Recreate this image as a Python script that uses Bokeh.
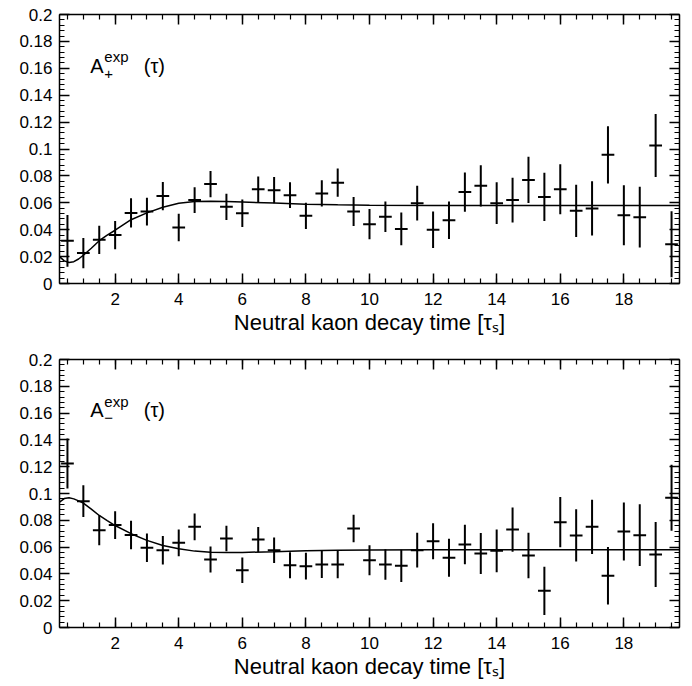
import numpy as np
from bokeh.plotting import figure
from bokeh.models import (FixedTicker, LinearAxis, Range1d, Label, ColumnDataSource,
                          CustomJSTickFormatter)
from bokeh.layouts import column
from bokeh.embed import file_html
from bokeh.resources import INLINE

# ---------------- data ----------------
t = [0.5, 1.0, 1.5, 2.0, 2.5, 3.0, 3.5, 4.0, 4.5, 5.0, 5.5, 6.0, 6.5, 7.0, 7.5, 8.0,
     8.5, 9.0, 9.5, 10.0, 10.5, 11.0, 11.5, 12.0, 12.5, 13.0, 13.5, 14.0, 14.5, 15.0,
     15.5, 16.0, 16.5, 17.0, 17.5, 18.0, 18.5, 19.0, 19.5]

a_plus = [0.0317, 0.0226, 0.0325, 0.0360, 0.0525, 0.0535, 0.0650, 0.0416, 0.0620, 0.0739,
          0.0570, 0.0523, 0.0700, 0.0694, 0.0657, 0.0503, 0.0670, 0.0750, 0.0535, 0.0441,
          0.0496, 0.0406, 0.0597, 0.0400, 0.0470, 0.0680, 0.0726, 0.0597, 0.0620, 0.0770,
          0.0644, 0.0700, 0.0540, 0.0558, 0.0957, 0.0508, 0.0493, 0.1026, 0.0292]
a_plus_err = [0.0192, 0.0112, 0.0105, 0.0105, 0.0108, 0.0103, 0.0105, 0.0102, 0.0095, 0.0097,
              0.0097, 0.0102, 0.0095, 0.0097, 0.0095, 0.0097, 0.0098, 0.0105, 0.0108, 0.0112,
              0.0114, 0.0121, 0.0129, 0.0136, 0.0139, 0.0146, 0.0154, 0.0155, 0.0167, 0.0172,
              0.0180, 0.0186, 0.0195, 0.0202, 0.0213, 0.0223, 0.0226, 0.0235, 0.0245]

a_minus = [0.1224, 0.0943, 0.0726, 0.0764, 0.0690, 0.0595, 0.0577, 0.0632, 0.0751, 0.0507,
           0.0664, 0.0428, 0.0657, 0.0577, 0.0465, 0.0458, 0.0470, 0.0470, 0.0739, 0.0502,
           0.0470, 0.0460, 0.0577, 0.0644, 0.0520, 0.0619, 0.0552, 0.0572, 0.0731, 0.0537,
           0.0274, 0.0786, 0.0687, 0.0751, 0.0386, 0.0716, 0.0689, 0.0545, 0.0968]
a_minus_err = [0.0187, 0.0118, 0.0112, 0.0103, 0.0106, 0.0106, 0.0106, 0.0100, 0.0100, 0.0097,
               0.0095, 0.0095, 0.0093, 0.0095, 0.0097, 0.0100, 0.0100, 0.0102, 0.0103, 0.0112,
               0.0114, 0.0121, 0.0130, 0.0134, 0.0142, 0.0147, 0.0153, 0.0159, 0.0165, 0.0170,
               0.0180, 0.0188, 0.0195, 0.0203, 0.0215, 0.0216, 0.0230, 0.0243, 0.0246]

fit_t = [0.25, 0.4, 0.55, 0.7, 0.85, 1.0, 1.25, 1.5, 1.75, 2.0, 2.5, 3.0, 3.5, 4.0, 4.5,
         5.0, 5.5, 6.0, 7.0, 8.0, 9.0, 10.0, 12.0, 14.0, 16.0, 18.0, 19.75]
fit_plus = [0.0200, 0.0168, 0.0156, 0.0162, 0.0182, 0.0210, 0.0262, 0.0318, 0.0360, 0.0396,
            0.0474, 0.0525, 0.0567, 0.0597, 0.0610, 0.0612, 0.0610, 0.0606, 0.0598, 0.0590,
            0.0585, 0.0582, 0.0580, 0.0580, 0.0580, 0.0580, 0.0580]
fit_minus = [0.0935, 0.0962, 0.0968, 0.0960, 0.0945, 0.0928, 0.0884, 0.0836, 0.0798, 0.0761,
             0.0700, 0.0650, 0.0612, 0.0587, 0.0570, 0.0562, 0.0560, 0.0560, 0.0566, 0.0573,
             0.0577, 0.0579, 0.0580, 0.0580, 0.0580, 0.0580, 0.0580]

x_major = [2, 4, 6, 8, 10, 12, 14, 16, 18]
y_major = [0.0, 0.02, 0.04, 0.06, 0.08, 0.1, 0.12, 0.14, 0.16, 0.18, 0.2]
y_labels = ["0", "0.02", "0.04", "0.06", "0.08", "0.1", "0.12", "0.14", "0.16", "0.18", "0.2"]
x_title = "Neutral kaon decay time [τₛ]"

# ---------------- styling ----------------
FONT = "Liberation Sans"
XHALF = 0.2
X_MINOR = list(np.arange(0.5, 19.75, 0.5))
Y_MINOR = list(np.round(np.arange(0.0, 0.2001, 0.004), 4))


def style_axis(ax, show_labels):
    ax.axis_line_width = 1.5
    ax.axis_line_color = "black"
    ax.major_tick_in = 10
    ax.major_tick_out = 0
    ax.minor_tick_in = 5
    ax.minor_tick_out = 0
    ax.major_tick_line_width = 1.5
    ax.minor_tick_line_width = 1.2
    ax.major_tick_line_color = "black"
    ax.minor_tick_line_color = "black"
    if show_labels:
        ax.major_label_text_font = FONT
        ax.major_label_text_font_size = "17px"
        ax.major_label_text_color = "black"
    else:
        ax.formatter = CustomJSTickFormatter(code="return '';")
        ax.major_label_standoff = 0


def make_panel(vals, errs, fit_vals, sign, top_border, bottom_border, frame_h):
    p = figure(frame_width=620, frame_height=frame_h,
               x_range=Range1d(0.25, 19.75), y_range=Range1d(0.0, 0.2),
               min_border_left=59, min_border_right=13,
               min_border_top=top_border, min_border_bottom=bottom_border,
               output_backend="svg", toolbar_location=None,
               background_fill_color="white", border_fill_color="white")
    p.outline_line_color = None
    p.xgrid.visible = False
    p.ygrid.visible = False

    p.xaxis.ticker = FixedTicker(ticks=x_major, minor_ticks=X_MINOR)
    p.yaxis.ticker = FixedTicker(ticks=y_major, minor_ticks=Y_MINOR)
    p.yaxis.major_label_overrides = {v: s for v, s in zip(y_major, y_labels)}
    style_axis(p.xaxis[0], True)
    style_axis(p.yaxis[0], True)
    p.xaxis.major_label_standoff = 9
    p.yaxis.major_label_standoff = 7
    p.xaxis.axis_label = x_title
    p.xaxis.axis_label_text_font = FONT
    p.xaxis.axis_label_text_font_size = "22px"
    p.xaxis.axis_label_text_font_style = "normal"
    p.xaxis.axis_label_text_color = "black"
    p.xaxis.axis_label_standoff = 2

    ax_r = LinearAxis(ticker=FixedTicker(ticks=y_major, minor_ticks=Y_MINOR))
    ax_t = LinearAxis(ticker=FixedTicker(ticks=x_major, minor_ticks=X_MINOR))
    style_axis(ax_r, False)
    style_axis(ax_t, False)
    p.add_layout(ax_r, "right")
    p.add_layout(ax_t, "above")

    v = np.array(vals)
    e = np.array(errs)
    tt = np.array(t)
    src = ColumnDataSource(dict(t=tt, v=v, lo=v - e, hi=v + e,
                                l=tt - XHALF, r=tt + XHALF))
    p.segment(x0="t", y0="lo", x1="t", y1="hi", source=src,
              line_color="black", line_width=2)
    p.segment(x0="l", y0="v", x1="r", y1="v", source=src,
              line_color="black", line_width=2)
    p.line(fit_t, fit_vals, line_color="black", line_width=1.5)

    # annotation A^exp_(+/-) (tau)
    ay = 0.162
    p.add_layout(Label(x=1.22, y=ay, text="A", text_font=FONT, text_font_size="20px",
                       text_baseline="alphabetic", text_color="black"))
    p.add_layout(Label(x=1.66, y=ay + 0.0068, text="exp", text_font=FONT,
                       text_font_size="15px", text_baseline="alphabetic", text_color="black"))
    p.add_layout(Label(x=1.66, y=ay - 0.0060, text=sign, text_font=FONT,
                       text_font_size="15px", text_baseline="alphabetic", text_color="black"))
    p.add_layout(Label(x=2.9, y=ay, text="(τ)", text_font=FONT, text_font_size="20px",
                       text_baseline="alphabetic", text_color="black"))
    return p


p1 = make_panel(a_plus, a_plus_err, fit_plus, "+", 14, 60, 269)
p2 = make_panel(a_minus, a_minus_err, fit_minus, "−", 16, 59, 268)

layout = column(p1, p2, spacing=0)
open("out.html", "w").write(file_html(layout, INLINE))
